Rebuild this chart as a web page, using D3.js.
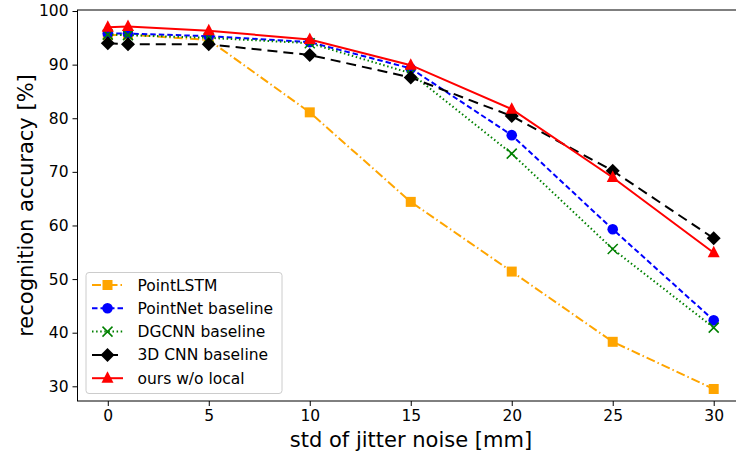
<!DOCTYPE html>
<html>
<head>
<meta charset="utf-8">
<script src="https://cdn.jsdelivr.net/npm/d3@7"></script>
<style>
  body { margin: 0; background: #fff; }
  svg { display: block; font-family: "DejaVu Sans", sans-serif; }
</style>
</head>
<body>
<div id="chart"></div>
<script>
// data
var noise = [0, 1, 5, 10, 15, 20, 25, 30];
var pointlstm = [95.5, 95.6, 94.6, 81.1, 64.4, 51.4, 38.3, 29.5];
var pointnet  = [95.8, 95.8, 95.3, 94.2, 89.3, 76.85, 59.3, 42.3];
var dgcnn     = [95.6, 95.5, 95.0, 94.0, 88.4, 73.4, 55.6, 40.95];
var cnn3d     = [94.0, 93.8, 93.8, 91.8, 87.6, 80.4, 70.2, 57.6];
var ours      = [96.95, 97.1, 96.3, 94.7, 89.9, 81.7, 68.95, 54.9];
var series_names = ['PointLSTM', 'PointNet baseline', 'DGCNN baseline', '3D CNN baseline', 'ours w/o local'];
var x_ticks = [0, 5, 10, 15, 20, 25, 30];
var y_ticks = [30, 40, 50, 60, 70, 80, 90, 100];

var width  = 736;
var height = 455;
var left   = 77.5;
var right  = 744;
var top_y  = 10;
var bottom = 401;

var styles = [
    {color: 'orange',  dash: '9,3,1.5,3', marker: 'square'},
    {color: 'blue',    dash: '5.5,3',     marker: 'circle'},
    {color: 'green',   dash: '1.5,2.6',   marker: 'x'},
    {color: 'black',   dash: '10,6',      marker: 'diamond'},
    {color: 'red',     dash: null,        marker: 'triangle'}
];
var all_values = [pointlstm, pointnet, dgcnn, cnn3d, ours];

var x_scale = d3.scaleLinear()
                .domain([-1.5, 31.5])
                .range([left, right]);

var y_scale = d3.scaleLinear()
                .domain([27.26, 100.19])
                .range([bottom, top_y]);

var svg = d3.select('#chart')
            .append('svg')
            .attr('width', width)
            .attr('height', height);

// axes
var x_axis = d3.axisBottom(x_scale)
               .tickValues(x_ticks)
               .tickSize(5)
               .tickPadding(4)
               .tickSizeOuter(0);

var y_axis = d3.axisLeft(y_scale)
               .tickValues(y_ticks)
               .tickSize(5)
               .tickPadding(4)
               .tickSizeOuter(0);

var gx = svg.append('g')
    .attr('transform', 'translate(0,' + bottom + ')')
    .call(x_axis);

var gy = svg.append('g')
    .attr('transform', 'translate(' + left + ',0)')
    .call(y_axis);

[gx, gy].forEach(function(g) {
    g.selectAll('text')
        .style('font-size', '15.5px')
        .style('font-family', '"DejaVu Sans", sans-serif')
        .attr('fill', '#000');
    g.selectAll('line').attr('stroke', '#000').attr('stroke-width', 1);
    g.select('.domain').remove();
});

// frame
svg.append('rect')
    .attr('x', left)
    .attr('y', top_y)
    .attr('width', right - left)
    .attr('height', bottom - top_y)
    .attr('fill', 'none')
    .attr('stroke', '#000')
    .attr('stroke-width', 1);

// axis labels
svg.append('text')
    .attr('x', (108 + 714) / 2)
    .attr('y', 447)
    .attr('text-anchor', 'middle')
    .style('font-size', '21px')
    .text('std of jitter noise [mm]');

svg.append('text')
    .attr('transform', 'translate(33,' + ((top_y + bottom) / 2) + ') rotate(-90)')
    .attr('text-anchor', 'middle')
    .style('font-size', '21px')
    .text('recognition accuracy [%]');

// markers
function draw_marker(g, type, color, cx, cy) {
    if (type === 'square') {
        g.append('rect')
            .attr('x', cx - 5).attr('y', cy - 5)
            .attr('width', 10).attr('height', 10)
            .attr('fill', color);
    } else if (type === 'circle') {
        g.append('circle')
            .attr('cx', cx).attr('cy', cy).attr('r', 5.3)
            .attr('fill', color);
    } else if (type === 'x') {
        g.append('path')
            .attr('d', 'M' + (cx - 5) + ',' + (cy - 5) + 'L' + (cx + 5) + ',' + (cy + 5) +
                       'M' + (cx - 5) + ',' + (cy + 5) + 'L' + (cx + 5) + ',' + (cy - 5))
            .attr('stroke', color)
            .attr('stroke-width', 1.5)
            .attr('fill', 'none');
    } else if (type === 'diamond') {
        g.append('path')
            .attr('d', 'M' + cx + ',' + (cy - 7) + 'L' + (cx + 7) + ',' + cy +
                       'L' + cx + ',' + (cy + 7) + 'L' + (cx - 7) + ',' + cy + 'Z')
            .attr('fill', color);
    } else if (type === 'triangle') {
        g.append('path')
            .attr('d', 'M' + cx + ',' + (cy - 7) + 'L' + (cx + 6) + ',' + (cy + 4.5) +
                       'L' + (cx - 6) + ',' + (cy + 4.5) + 'Z')
            .attr('fill', color);
    }
}

// the lines
var plot = svg.append('g');

all_values.forEach(function(vals, k) {
    var st = styles[k];
    var line = d3.line()
        .x(function(d, i) { return x_scale(noise[i]); })
        .y(function(d) { return y_scale(d); });

    var g = plot.append('g');
    g.append('path')
        .datum(vals)
        .attr('fill', 'none')
        .attr('stroke', st.color)
        .attr('stroke-width', 2)
        .attr('stroke-dasharray', st.dash)
        .attr('d', line);

    vals.forEach(function(v, i) {
        draw_marker(g, st.marker, st.color, x_scale(noise[i]), y_scale(v));
    });
});

// legend
var legend = svg.append('g')
    .attr('class', 'legend');

legend.append('rect')
    .attr('x', 86)
    .attr('y', 272.5)
    .attr('width', 196)
    .attr('height', 121)
    .attr('rx', 3)
    .attr('fill', 'rgba(255,255,255,0.8)')
    .attr('stroke', '#ccc')
    .attr('stroke-width', 1);

series_names.forEach(function(name, k) {
    var st = styles[k];
    var ly = 285 + k * 23.3;
    legend.append('line')
        .attr('x1', 92).attr('x2', 123)
        .attr('y1', ly).attr('y2', ly)
        .attr('stroke', st.color)
        .attr('stroke-width', 2)
        .attr('stroke-dasharray', st.dash);
    draw_marker(legend, st.marker, st.color, 107.5, ly);
    legend.append('text')
        .attr('x', 137.5)
        .attr('y', ly + 5.5)
        .style('font-size', '15.5px')
        .text(name);
});
</script>
</body>
</html>
